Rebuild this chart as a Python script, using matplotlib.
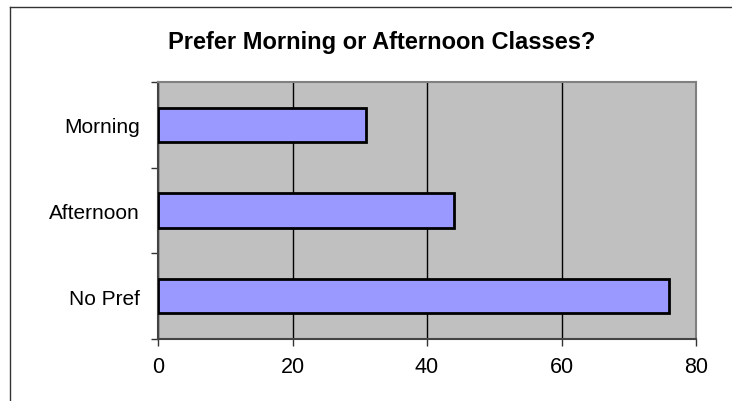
import matplotlib
matplotlib.use("Agg")
import matplotlib.pyplot as plt
from matplotlib.lines import Line2D

categories = ["Morning", "Afternoon", "No Pref"]
values = [31, 44, 76]
x_ticks = [0, 20, 40, 60, 80]
title = "Prefer Morning or Afternoon Classes?"

plt.rcParams['font.family'] = ['Liberation Sans', 'DejaVu Sans']

fig = plt.figure(figsize=(7.32, 4.02), dpi=100)
fig.patch.set_facecolor('white')

# outer chart border (cropped at right and bottom)
top_y = 1 - 8 / 402
left_x = 10 / 732
fig.add_artist(Line2D([left_x, 1.0], [top_y, top_y], transform=fig.transFigure,
                      color='#333333', lw=1.0))
fig.add_artist(Line2D([left_x, left_x], [0.0, top_y], transform=fig.transFigure,
                      color='#333333', lw=1.0))

ax = fig.add_axes([158 / 732, 1 - 340 / 402, (696 - 158) / 732, (340 - 83) / 402])
ax.set_facecolor('#C0C0C0')

ypos = list(range(len(categories)))
ax.barh(ypos, values, height=0.4, color='#9999FF', edgecolor='black',
        linewidth=2.0, zorder=3)

ax.set_xlim(x_ticks[0], x_ticks[-1])
ax.set_ylim(len(categories) - 0.5, -0.5)

ax.set_xticks(x_ticks)
ax.set_xticklabels([str(t) for t in x_ticks], fontsize=15.5)
ax.xaxis.grid(True, color='black', linewidth=1.0, zorder=1)
ax.set_axisbelow(True)

# y ticks: marks at category boundaries, labels centered
ax.set_yticks([i - 0.5 for i in range(len(categories) + 1)])
ax.set_yticklabels([''] * (len(categories) + 1))
ax.set_yticks(ypos, minor=True)
ax.set_yticklabels(categories, minor=True, fontsize=15)
ax.tick_params(axis='y', which='minor', length=0, pad=13)
ax.tick_params(axis='y', which='major', length=5, width=1, color='#333333', direction='out')
ax.tick_params(axis='x', which='major', length=5, width=1, color='#333333', direction='out', pad=7)

for side in ['top', 'right']:
    ax.spines[side].set_color('#808080')
    ax.spines[side].set_linewidth(1.5)
for side in ['left', 'bottom']:
    ax.spines[side].set_color('#444444')
    ax.spines[side].set_linewidth(1.5)

fig.text((167 + 597) / 2 / 732, 1 - 43 / 402, title, ha='center', va='center',
         fontsize=17, fontweight='bold')

fig.savefig('out.png', dpi=100, facecolor='white')
